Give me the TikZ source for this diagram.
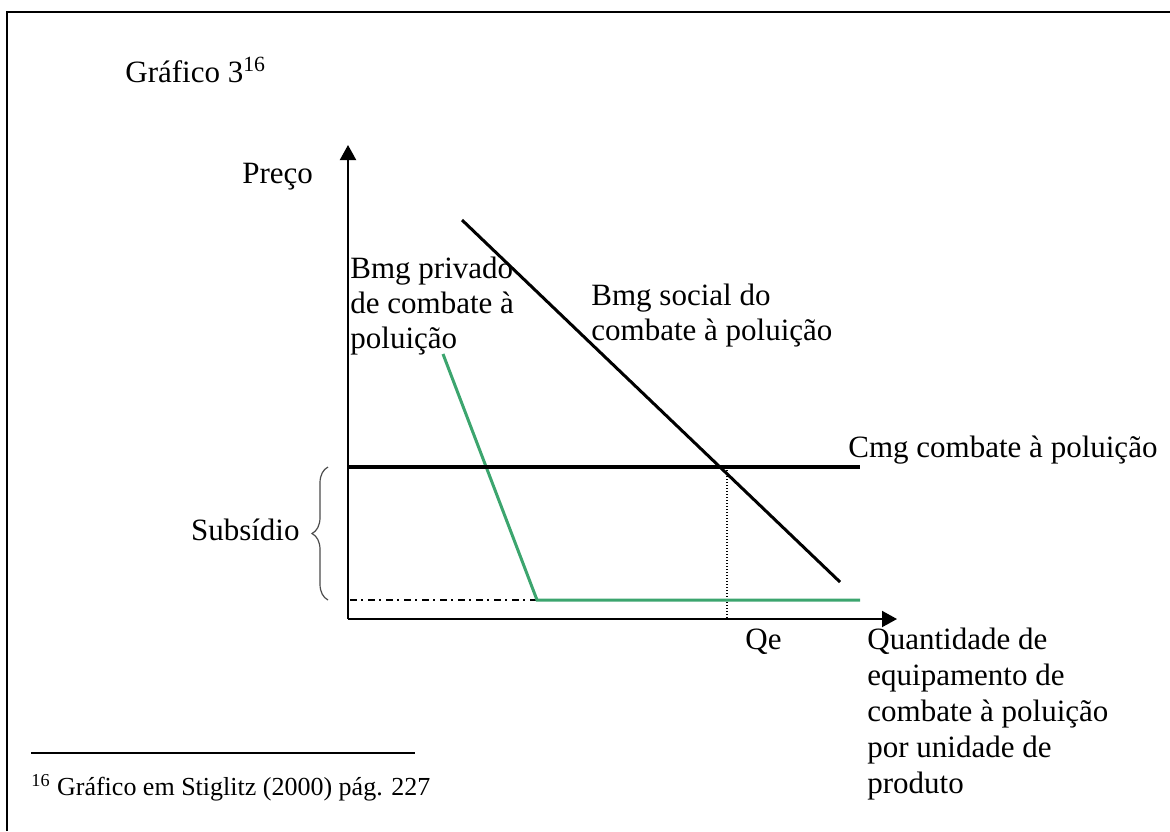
\documentclass[tikz,border=0pt]{standalone}
\usepackage{fontspec}
\setmainfont{Liberation Serif}
\usetikzlibrary{arrows.meta,decorations.pathreplacing}
\definecolor{bmggreen}{RGB}{60,165,110}
\begin{document}
\begin{tikzpicture}[x=0.5pt,y=-0.5pt,
  lbl/.style={inner sep=0pt,anchor=base west,font=\fontsize{15.5}{17.5}\selectfont},
  footlbl/.style={inner sep=0pt,anchor=base west,font=\fontsize{13}{15}\selectfont},
  axisline/.style={line width=1pt,-{Triangle[length=7.5pt,width=8pt]}},
  cmgline/.style={line width=2.2pt},
  socialline/.style={line width=1.5pt},
  privline/.style={line width=1.5pt,draw=bmggreen},
  guide/.style={line width=0.6pt,dash pattern=on 0.6pt off 0.9pt},
  dashdot/.style={line width=0.6pt,dash pattern=on 3.5pt off 2pt on 1pt off 2.5pt},
  bracestyle/.style={draw=black!70,line width=0.6pt,decorate,decoration={brace,amplitude=8pt}},
  framestyle/.style={line width=1pt},
  rulestyle/.style={line width=1pt}]
\useasboundingbox (0,0) rectangle (1170,831);
% frame
\draw[framestyle] (7,831) -- (7,12) -- (1170,12);
% coordinates
\coordinate (O) at (348,619);
\coordinate (ytop) at (348,145);
\coordinate (xend) at (897,619);
\coordinate (cmgA) at (348,467);
\coordinate (cmgB) at (860,467);
\coordinate (socA) at (462,220);
\coordinate (socB) at (840,582);
\coordinate (privA) at (443,354);
\coordinate (privK) at (537,600);
\coordinate (privB) at (860,600);
\coordinate (ddA) at (350,600);
\coordinate (qeTop) at (727,467);
\coordinate (qeBot) at (727,619);
\coordinate (brBot) at (328,600);
\coordinate (brTop) at (328,467);
\coordinate (ruleA) at (31,753);
\coordinate (ruleB) at (415,753);
% axes
\draw[axisline] (O) -- (ytop);
\draw[axisline] (O) -- (xend);
% guides
\draw[dashdot] (ddA) -- (privK);
\draw[guide] (qeTop) -- (qeBot);
% curves
\draw[privline] (privA) -- (privK) -- (privB);
\draw[cmgline] (cmgA) -- (cmgB);
\draw[socialline] (socA) -- (socB);
% brace
\draw[bracestyle] (brBot) -- (brTop);
% labels
\node[lbl] (title) at (125,82) {Gráfico 3\textsuperscript{16}};
\node[lbl] (preco) at (242,183) {Preço};
\node[lbl] (priv) at (350,278) {\vtop{\baselineskip=17.5pt\hbox{Bmg privado}\hbox{de combate à}\hbox{poluição}}};
\node[lbl] (soc) at (591,305) {\vtop{\baselineskip=17.5pt\hbox{Bmg social do}\hbox{combate à poluição}}};
\node[lbl] (cmg) at (848,457) {Cmg combate à poluição};
\node[lbl,anchor=base east] (sub) at (300,540) {Subsídio};
\node[lbl] (qe) at (745,649) {Qe};
\node[lbl] (qty) at (867,649) {\vtop{\baselineskip=18pt\hbox{Quantidade de}\hbox{equipamento de}\hbox{combate à poluição}\hbox{por unidade de}\hbox{produto}}};
% footnote
\draw[rulestyle] (ruleA) -- (ruleB);
\node[footlbl] (foot) at (31,795) {\textsuperscript{16} Gráfico em Stiglitz (2000) pág. 227};
\end{tikzpicture}
\end{document}
